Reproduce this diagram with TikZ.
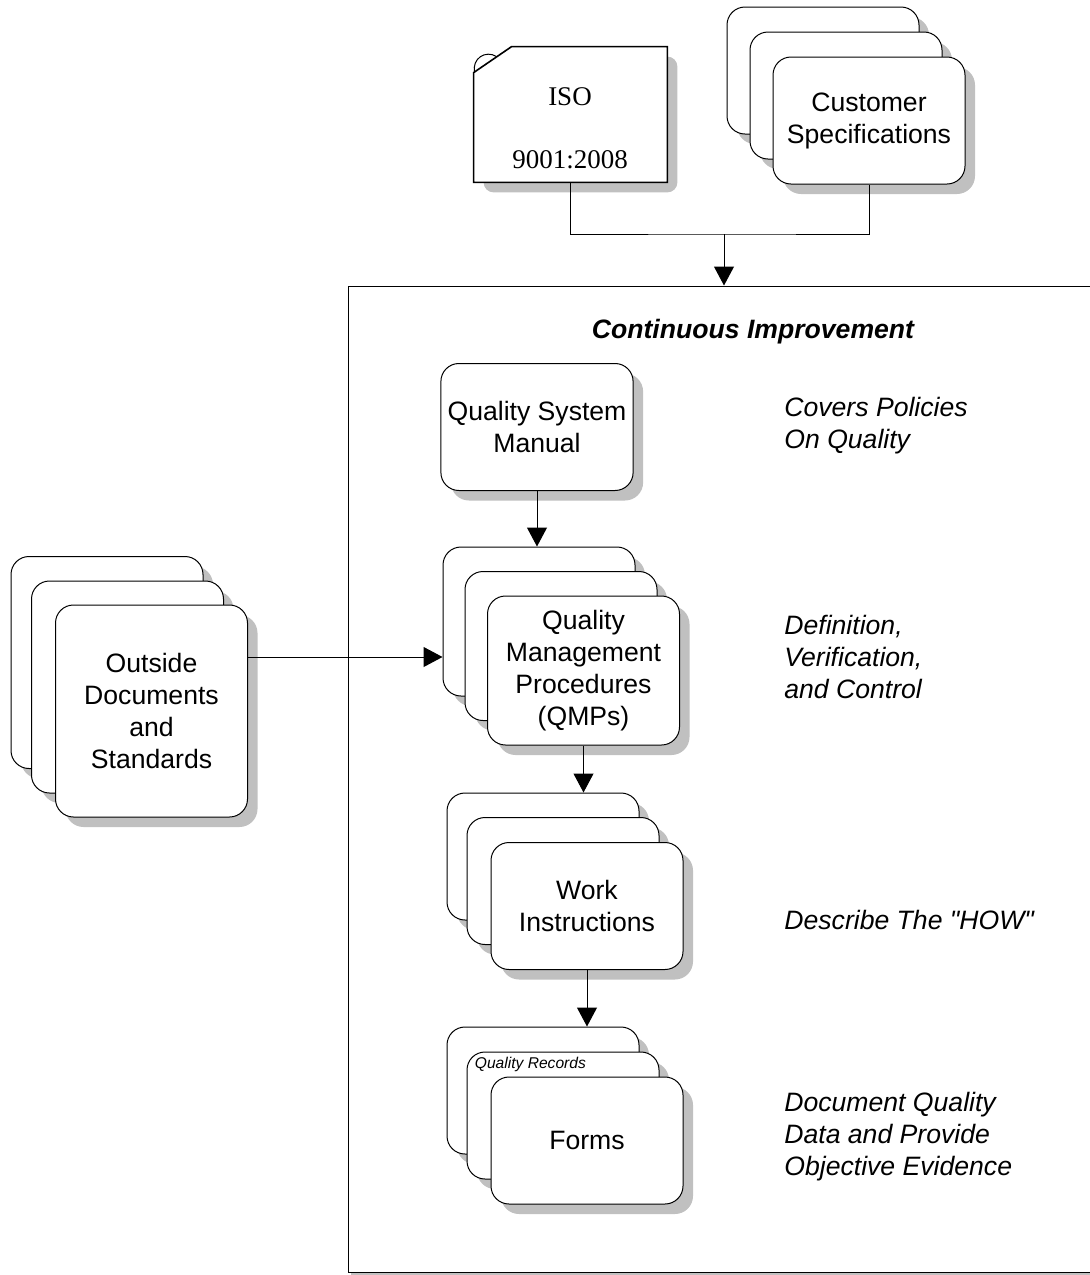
\documentclass[tikz,border=0pt]{standalone}
\usepackage{fontspec}
\setmainfont{Liberation Sans}[Ligatures=TeXOff]
\newfontfamily\isofont{Liberation Serif}
\usetikzlibrary{arrows.meta,shadows,calc}
\definecolor{shadowgray}{HTML}{C0C0C0}
\newcommand{\cardfont}{\fontsize{13.3}{16}\selectfont}
\tikzset{>={Triangle[length=9.5pt,width=10pt]}}
\tikzset{
  card/.style={draw,fill=white,rounded corners=9pt,line width=0.5pt,minimum width=96pt,
    align=center,font=\cardfont,
    drop shadow={shadow xshift=5pt,shadow yshift=-5pt,fill=shadowgray,opacity=1}},
  cardshort/.style={card,minimum height=63.5pt},
  cardmid/.style={card,minimum height=74.5pt},
  cardtall/.style={card,minimum height=106pt},
  note/.style={anchor=west,inner sep=0pt,align=left,font=\cardfont\itshape},
  conn/.style={line width=0.5pt}
}

\begin{document}
\begin{tikzpicture}[x=0.5pt,y=-0.5pt]
\clip (0,0) rectangle (1090,1275);

%%% Frame
\node[draw,fill=white,line width=0.5pt,minimum width=376pt,minimum height=493pt,inner sep=0pt,
  drop shadow={shadow xshift=1.5pt,shadow yshift=-1.5pt,fill=shadowgray,opacity=1}] (frame) at (724,779) {};
\node[font=\cardfont\bfseries\itshape] (title) at (753,332) {Continuous Improvement};

%%% ISO document
\node[minimum width=96.5pt,minimum height=67.5pt,inner sep=0pt] (iso) at (570.5,114.5) {};
\fill[shadowgray,rounded corners=5pt] ($(iso.north west)+(10,36)$) -- ($(iso.north west)+(48,10)$) -- ($(iso.north east)+(10,10)$) -- ($(iso.south east)+(10,10)$) -- ($(iso.south west)+(10,10)$) -- cycle;
\draw[fill=white,line width=0.8pt] ($(iso.north west)+(0,26)$) -- ($(iso.north west)+(38,0)$) -- (iso.north east) -- (iso.south east) -- (iso.south west) -- cycle;
\draw[conn] ($(iso.north west)+(1,26)$) .. controls ($(iso.north west)+(-2,12)$) and ($(iso.north west)+(12,3)$) .. ($(iso.north west)+(23,10)$);
\node[font=\isofont\fontsize{13.5}{16}\selectfont,align=center] (isotext) at (570,128) {ISO\\[15.5pt]9001:2008};

%%% Customer specifications
\node[cardshort] (cust1) at (823,70.5) {};
\node[cardshort] (cust2) at (846,95.5) {};
\node[cardshort] (cust3) at (869,120.5) {Customer\\Specifications};

\coordinate (join) at (724,234);
\draw[conn] (iso.south) |- (join) -| (cust3.south);
\draw[conn,->] (join) -- (frame.north);

%%% Quality system manual
\node[cardshort] (qsm) at (537,427) {Quality System\\Manual};

%%% QMPs
\node[cardmid] (qmp1) at (539,621.5) {};
\node[cardmid] (qmp2) at (561,646) {};
\node[cardmid] (qmp3) at (583.5,670.5) {Quality\\Management\\Procedures\\(QMPs)};
\draw[conn,->] (qsm.south) -- (qsm.south |- qmp1.north);

%%% Outside documents
\node[cardtall] (out1) at (107,662.5) {};
\node[cardtall] (out2) at (127.5,687) {};
\node[cardtall] (out3) at (151.5,711) {Outside\\Documents\\and\\Standards};
\coordinate (qin) at ($(qmp1.west)+(0,35.5)$);
\draw[conn,->] (out3.east |- qin) -- (qin);

%%% Work instructions
\node[cardshort] (work1) at (543,856.5) {};
\node[cardshort] (work2) at (563,881) {};
\node[cardshort] (work3) at (587,906) {Work\\Instructions};
\draw[conn,->] (qmp3.south) -- (qmp3.south |- work1.north);

%%% Forms
\node[cardshort] (forms1) at (543,1090.5) {};
\node[cardshort] (forms2) at (563,1115.5) {};
\node[cardshort] (forms3) at (587,1140.5) {Forms};
\node[anchor=north west,inner sep=0pt,font=\fontsize{7.8}{9}\selectfont\itshape] (qrec) at ($(forms2.north west)+(8,5)$) {Quality Records};
\draw[conn,->] (work3.south) -- (work3.south |- forms1.north);

%%% Notes
\node[note] (desc1) at (784,426) {Covers Policies\\On Quality};
\node[note] (desc2) at (784,657) {Definition,\\Verification,\\and Control};
\node[note] (desc3) at (784,920) {Describe The "HOW"};
\node[note] (desc4) at (784,1137) {Document Quality\\Data and Provide\\Objective Evidence};

\end{tikzpicture}
\end{document}
